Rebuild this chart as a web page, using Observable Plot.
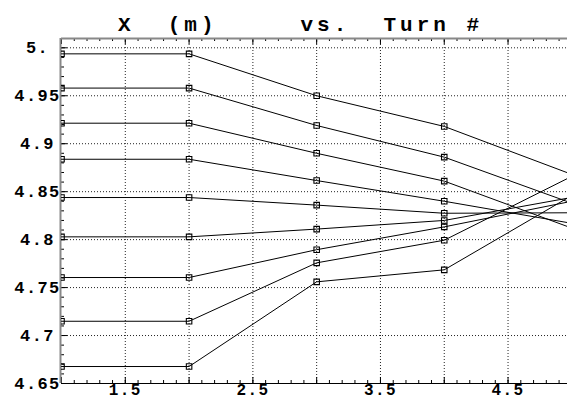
<!DOCTYPE html>
<html>
<head>
<meta charset="utf-8">
<script src="https://cdn.jsdelivr.net/npm/d3@7"></script>
<script src="https://cdn.jsdelivr.net/npm/@observablehq/plot@0.6"></script>
<style>
  html, body { margin: 0; padding: 0; background: #fff; }
  #chart svg { display: block; }
</style>
</head>
<body>
<div id="chart"></div>
<script>
// ---- data ----
const turns = [1, 2, 3, 4, 5];
const series1 = [4.9937, 4.9937, 4.950, 4.918, 4.868];
const series2 = [4.958, 4.958, 4.919, 4.886, 4.838];
const series3 = [4.9214, 4.9214, 4.890, 4.861, 4.812];
const series4 = [4.8838, 4.8838, 4.8616, 4.840, 4.817];
const series5 = [4.8439, 4.8439, 4.836, 4.8275, 4.828];
const series6 = [4.8029, 4.8029, 4.811, 4.820, 4.844];
const series7 = [4.7605, 4.7605, 4.7895, 4.8133, 4.840];
const series8 = [4.7149, 4.7149, 4.7758, 4.7994, 4.866];
const series9 = [4.6677, 4.6677, 4.756, 4.7685, 4.846];
const allSeries = [series1, series2, series3, series4, series5, series6, series7, series8, series9];

const xGrid = [1.5, 2, 2.5, 3, 3.5, 4, 4.5];
const xTickLabels = ["1.5", "2.5", "3.5", "4.5"];
const yGrid = [4.7, 4.75, 4.8, 4.85, 4.9, 4.95, 5.0];
const yTickValues = [4.65, 4.7, 4.75, 4.8, 4.85, 4.9, 4.95, 5.0];
const yTickLabels = ["4.65", "4.7", "4.75", "4.8", "4.85", "4.9", "4.95", "5."];
const titleText = "X\u00a0\u00a0(m)\u00a0\u00a0\u00a0\u00a0\u00a0vs.\u00a0\u00a0Turn\u00a0#";

const xDomain = [1, 4.966];
const yDomain = [4.65, 5.0097];

// minor ticks
const xMinor = d3.range(10, 50).map(v => v / 10);
const yMinor = d3.range(465, 501).map(v => v / 100);
const xMajor = d3.range(2, 10).map(v => v / 2);

const table = allSeries.flatMap((s, i) => s.map((v, j) => ({series: i, turn: turns[j], x: v})));

const W = 567, H = 403, mL = 61, mR = 0, mT = 38, mB = 20;
const pw = W - mL - mR, ph = H - mT - mB;
const font = "Liberation Mono, DejaVu Sans Mono, monospace";

const plot = Plot.plot({
  width: W,
  height: H,
  marginLeft: mL,
  marginRight: mR,
  marginTop: mT,
  marginBottom: mB,
  x: {domain: xDomain, axis: null},
  y: {domain: yDomain, axis: null},
  style: {background: "#fff"},
  marks: [
    Plot.ruleX(xGrid, {x: d => d, stroke: "#222", strokeWidth: 1, strokeDasharray: "1,2"}),
    Plot.ruleY(yGrid, {y: d => d, stroke: "#222", strokeWidth: 1, strokeDasharray: "1,2"}),
    // bottom ticks (inward)
    Plot.ruleX(xMinor, {x: d => d, insetTop: ph - 3, stroke: "#000"}),
    Plot.ruleX(xMajor, {x: d => d, insetTop: ph - 6, stroke: "#000"}),
    // top ticks
    Plot.ruleX(xMinor, {x: d => d, insetBottom: ph - 3, stroke: "#000"}),
    Plot.ruleX(xMajor, {x: d => d, insetBottom: ph - 6, stroke: "#000"}),
    // left ticks
    Plot.ruleY(yMinor, {y: d => d, insetRight: pw - 3, stroke: "#000"}),
    Plot.ruleY(yTickValues, {y: d => d, insetRight: pw - 6, stroke: "#000"}),
    // frame lines
    Plot.ruleY([yDomain[1]], {stroke: "#888", strokeWidth: 2}),
    Plot.ruleX([xDomain[0]], {stroke: "#888", strokeWidth: 2, dx: -1}),
    Plot.ruleY([yDomain[0]], {stroke: "#000", strokeWidth: 1.2}),
    // data
    Plot.line(table, {x: "turn", y: "x", z: "series", stroke: "#000", strokeWidth: 1, clip: true}),
    Plot.dot(table, {x: "turn", y: "x", symbol: "square", r: 3.1, stroke: "#000", fill: "none", strokeWidth: 1.1, clip: true}),
    // tick labels
    Plot.text(xTickLabels, {x: d => +d, text: d => d, frameAnchor: "bottom", dy: 11,
      fontFamily: font, fontWeight: "bold", fontSize: 16, fill: "#000"}),
    Plot.text(yTickValues, {y: d => d, text: (d, i) => yTickLabels[i], frameAnchor: "left", dx: -24, textAnchor: "middle",
      fontFamily: font, fontWeight: "bold", fontSize: 17, fill: "#000"}),
    // title
    Plot.text([titleText], {text: d => d, frameAnchor: "top", lineAnchor: "bottom", dy: -8, dx: -14,
      fontFamily: font, fontWeight: "bold", fontSize: 21, fill: "#000"})
  ]
});

// letter spacing adjustments
d3.select(plot).selectAll("text").each(function() {
  const t = this.textContent;
  if (t.includes("Turn")) this.style.letterSpacing = "4px";
  else this.style.letterSpacing = "1.4px";
});

document.getElementById("chart").appendChild(plot);
</script>
</body>
</html>
